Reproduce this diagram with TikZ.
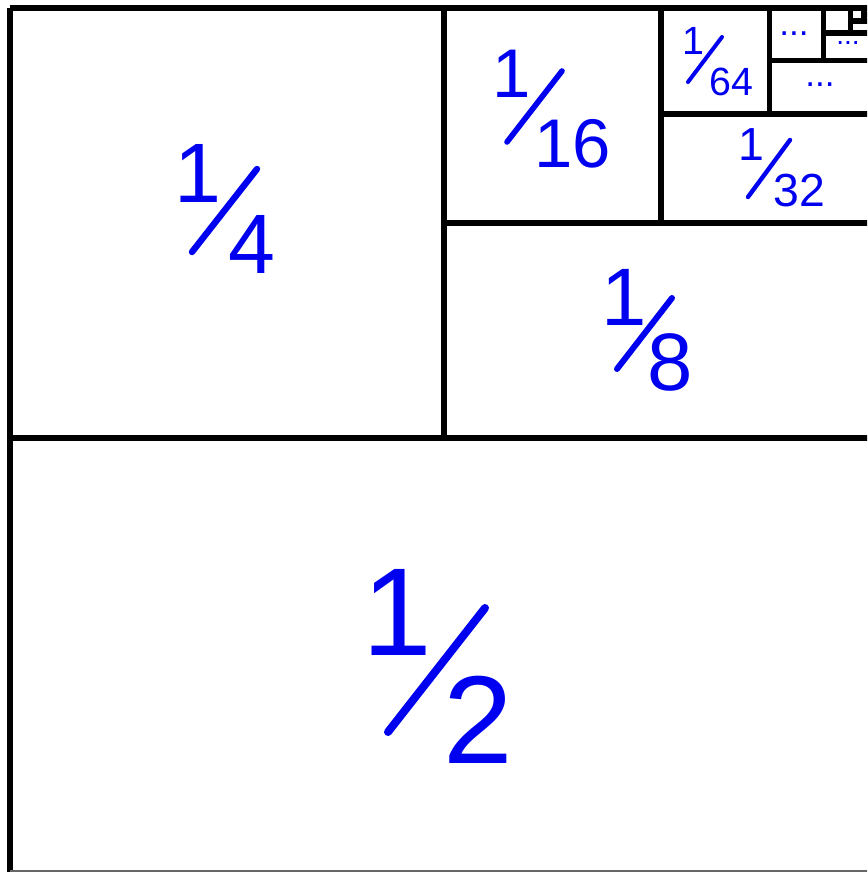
\documentclass[tikz,border=0pt]{standalone}
\usepackage{fontspec}
\usepackage{tikz}
\newfontfamily\arialfont{Liberation Sans}
\definecolor{cFrac}{HTML}{0000F0}

\begin{document}
\begin{tikzpicture}[x=0.25mm, y=-0.25mm,
    every node/.style={inner sep=0pt, outer sep=0pt},
    wall/.style ={draw=black, line width=1.4mm, line cap=square},
    fr/.style   ={text=cFrac, anchor=base, font=\arialfont\fontsize{#1}{#1}\selectfont},
    sl/.style   ={draw=cFrac, line cap=round, line width=#1},
    more/.style ={text=cFrac, anchor=base, font=\arialfont\fontsize{#1}{#1}\selectfont}]

\useasboundingbox (0,0) rectangle (867,872);
\clip (0,0) rectangle (867,872);

\def\XL{10}  \def\XR{880}   % left / right of the square
\def\YT{8}   \def\YB{868}   % top / bottom

% ── frame and halving lines ─────────────────────────────────────────────
\draw[wall] (\XL,\YT) -- (\XR,\YT);
\draw[wall] (\XL,\YT) -- (\XL,874);
\draw[draw=black!60, line width=.5mm] (\XL,870.5) -- (\XR,870.5);

\draw[wall] (\XL,438)   -- (\XR,438);      % 1/2
\draw[wall] (444,\YT)   -- (444,438);      % 1/4
\draw[wall] (444,223)   -- (\XR,223);      % 1/8
\draw[wall] (661,\YT)   -- (661,223);      % 1/16
\draw[wall] (661,114)   -- (\XR,114);      % 1/32
\draw[wall] (769.5,\YT) -- (769.5,114);    % 1/64
\draw[wall] (769.5,60.5)-- (\XR,60.5);     % 1/128
\draw[wall] (823.5,\YT) -- (823.5,60.5);   % 1/256
\draw[wall] (823.5,33)  -- (\XR,33);       % 1/512
\draw[wall] (850.5,\YT) -- (850.5,33);     % 1/1024
\draw[wall] (850.5,21)  -- (\XR,21);
\draw[wall] (864,\YT)   -- (864,21);
\draw[wall] (864,14.5)  -- (\XR,14.5);

% ── fractions ───────────────────────────────────────────────────────────
\node[fr=89pt] (n2) at (397,655) {1};
\node[fr=89pt] (d2) at (478,763)   {2};
\draw[sl=2mm] (388,732) -- (485,608);

\node[fr=60pt] (n4) at (197.5,202) {1};
\node[fr=60pt] (d4) at (252,273) {4};
\draw[sl=1.6mm] (192,252) -- (257,169);

\node[fr=58pt] (n8) at (624,325)   {1};
\node[fr=58pt] (d8) at (670.5,390) {8};
\draw[sl=1.5mm] (617,369) -- (672,298);

\node[fr=49pt] (n16) at (512,97)    {1};
\node[fr=49pt] (d16) at (572.5,167) {16};
\draw[sl=1.4mm] (507,142) -- (562,71);

\node[fr=33pt] (n32) at (751,160) {1};
\node[fr=33pt] (d32) at (799,206) {32};
\draw[sl=1.1mm] (748,197) -- (790,140);

\node[fr=28pt] (n64) at (693,54) {1};
\node[fr=28pt] (d64) at (731,95) {64};
\draw[sl=1mm] (688,82) -- (722,37);

% ── smaller pieces ──────────────────────────────────────────────────────
\node[more=25pt] (p128) at (820,86) {...};
\node[more=25pt] (p256) at (794,35) {...};
\node[more=20pt] (p512) at (848,45) {...};
\end{tikzpicture}
\end{document}
